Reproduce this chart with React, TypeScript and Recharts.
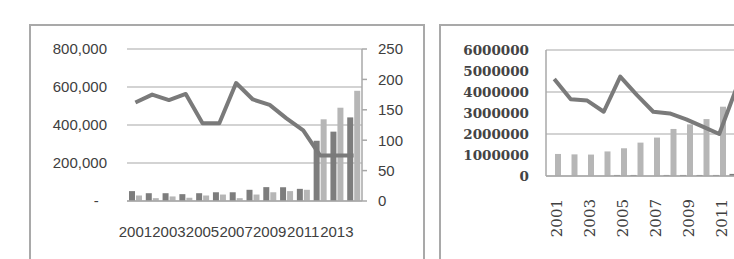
import { ComposedChart, Bar, Line, XAxis, YAxis, CartesianGrid } from "recharts";

const YEARS = ["2001", "2002", "2003", "2004", "2005", "2006", "2007", "2008", "2009", "2010", "2011", "2012", "2013", "2014"];

// left panel
const LEFT_DARK = [52000, 41000, 41000, 36000, 41000, 46000, 46000, 59000, 73000, 73000, 64000, 317000, 365000, 440000];
const LEFT_LIGHT = [29000, 15000, 24000, 17000, 29000, 34000, 15000, 34000, 46000, 52000, 59000, 430000, 491000, 580000];
const LEFT_LINE = [162, 175, 166, 176, 128, 128, 194, 167, 158, 136, 116, 75, 75, 75];
const LEFT_TICKS = [0, 200000, 400000, 600000, 800000];
const RIGHT_TICKS = [0, 50, 100, 150, 200, 250];

// right panel
const R_LINE = [4620000, 3650000, 3590000, 3060000, 4730000, 3860000, 3060000, 2980000, 2700000, 2350000, 2000000, 4100000, 4300000, 4500000];
const R_LIGHT = [1050000, 1030000, 1020000, 1170000, 1320000, 1590000, 1830000, 2240000, 2460000, 2710000, 3300000, 3500000, 3700000, 3900000];
const R_DARK = [0, 0, 0, 0, 50000, 50000, 0, 50000, 50000, 50000, 50000, 100000, 100000, 100000];
const R_TICKS = [0, 1000000, 2000000, 3000000, 4000000, 5000000, 6000000];

const leftData = YEARS.map((year, i) => ({ year, dark: LEFT_DARK[i], light: LEFT_LIGHT[i], line: LEFT_LINE[i] }));
const rightData = YEARS.map((year, i) => ({ year, dark: R_DARK[i], light: R_LIGHT[i], line: R_LINE[i] }));

const DARK = "#7d7d7d";
const LIGHT = "#b6b6b6";
const GRID = "#c4c4c4";
const AXIS = "#a8a8a8";

const sansTick = { fontFamily: "Liberation Sans", fontSize: 15, fill: "#404040" };
const serifTick = { fontFamily: "DejaVu Serif", fontSize: 13.5, fontWeight: 700, fill: "#444" };

function fmtLeft(v: number) {
  if (v === 0) return "-\u00a0\u00a0";
  return v.toLocaleString("en-US");
}

function RotatedTick(props: any) {
  const { x, y, payload } = props;
  const ty = y + 21;
  return (
    <text
      x={x}
      y={ty}
      dy="0.5em"
      transform={`rotate(-90 ${x} ${ty})`}
      textAnchor="end"
      fontFamily="DejaVu Serif"
      fontSize={15}
      fill="#404040"
    >
      {payload.value}
    </text>
  );
}

export default function App() {
  return (
    <div style={{ position: "absolute", left: 0, top: 0, width: 734, height: 259, overflow: "hidden", background: "#fff" }}>
      <div style={{ position: "absolute", left: 29, top: 24, width: 396, height: 260, border: "2px solid #a9a9a9", boxSizing: "border-box" }} />
      <div style={{ position: "absolute", left: 439, top: 24, width: 400, height: 260, border: "2px solid #a9a9a9", boxSizing: "border-box" }} />

      <div style={{ position: "absolute", left: 30, top: 25 }}>
        <ComposedChart width={394} height={234} data={leftData} margin={{ top: 24, right: 0, left: 0, bottom: 0 }} barGap={1}>
          <CartesianGrid yAxisId="left" vertical={false} stroke={GRID} strokeWidth={1.5} />
          <XAxis
            dataKey="year"
            height={58}
            interval={1}
            tickLine={false}
            tickSize={0}
            tickMargin={25}
            axisLine={{ stroke: AXIS, strokeWidth: 1.5 }}
            tick={sansTick}
          />
          <YAxis
            yAxisId="left"
            width={97}
            domain={[0, 800000]}
            ticks={LEFT_TICKS}
            tickFormatter={fmtLeft}
            axisLine={false}
            tickLine={false}
            tickSize={0}
            tickMargin={20}
            tick={sansTick}
          />
          <YAxis
            yAxisId="right"
            orientation="right"
            width={62}
            domain={[0, 250]}
            ticks={RIGHT_TICKS}
            axisLine={{ stroke: AXIS, strokeWidth: 1.5 }}
            tickLine={{ stroke: AXIS, strokeWidth: 1.5 }}
            tickSize={5}
            tickMargin={11}
            tick={sansTick}
          />
          <Bar yAxisId="left" dataKey="dark" fill={DARK} barSize={6} isAnimationActive={false} />
          <Bar yAxisId="left" dataKey="light" fill={LIGHT} barSize={6} isAnimationActive={false} />
          <Line
            yAxisId="right"
            dataKey="line"
            type="linear"
            stroke="#7a7a7a"
            strokeWidth={4}
            strokeLinejoin="round"
            dot={false}
            activeDot={false}
            isAnimationActive={false}
          />
        </ComposedChart>
      </div>

      <div style={{ position: "absolute", left: 440, top: 25 }}>
        <ComposedChart width={420} height={234} data={rightData} margin={{ top: 25, right: 83, left: 0, bottom: 0 }} barGap={1}>
          <CartesianGrid vertical={false} stroke={GRID} strokeWidth={1.5} />
          <XAxis
            dataKey="year"
            height={83}
            interval={1}
            tickLine={false}
            tickSize={0}
            axisLine={{ stroke: AXIS, strokeWidth: 1.5 }}
            tick={<RotatedTick />}
          />
          <YAxis
            width={106}
            domain={[0, 6000000]}
            ticks={R_TICKS}
            axisLine={{ stroke: AXIS, strokeWidth: 1.5 }}
            tickLine={false}
            tickSize={0}
            tickMargin={17}
            tick={serifTick}
          />
          <Bar dataKey="dark" fill={DARK} barSize={6} isAnimationActive={false} />
          <Bar dataKey="light" fill={LIGHT} barSize={6} isAnimationActive={false} />
          <Line
            dataKey="line"
            type="linear"
            stroke="#7a7a7a"
            strokeWidth={4}
            strokeLinejoin="round"
            dot={false}
            activeDot={false}
            isAnimationActive={false}
          />
        </ComposedChart>
      </div>
    </div>
  );
}
